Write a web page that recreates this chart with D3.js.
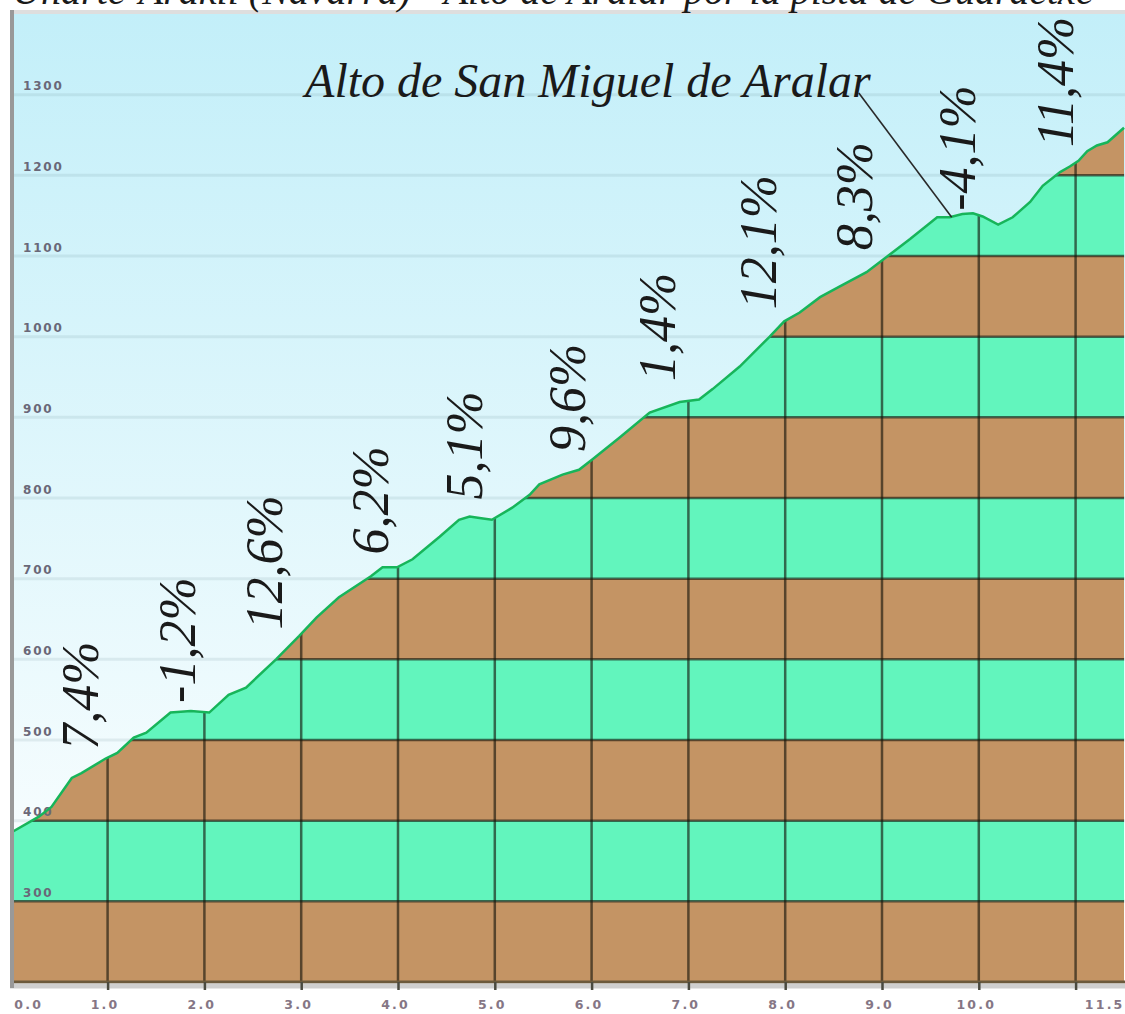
<!DOCTYPE html>
<html>
<head>
<meta charset="utf-8">
<script src="https://cdn.jsdelivr.net/npm/d3@7"></script>
<style>
  body { margin: 0; background: #fff; }
</style>
</head>
<body>
<div id="perfil"></div>
<script>
// Perfil: km recorrido / altitud (m)
var profileKm = [0.0, 0.29, 0.42, 0.63, 0.73, 0.98, 1.10, 1.27, 1.40, 1.65, 1.86, 2.05, 2.25, 2.43, 2.74, 2.98,
  3.16, 3.39, 3.72, 3.84, 3.99, 4.15, 4.43, 4.63, 4.74, 4.86, 4.97, 5.18, 5.36, 5.46, 5.70, 5.87, 6.01,
  6.29, 6.60, 6.91, 7.11, 7.25, 7.53, 7.84, 7.99, 8.15, 8.36, 8.56, 8.84, 9.05, 9.29, 9.57, 9.70, 9.83,
  9.94, 10.04, 10.20, 10.35, 10.53, 10.66, 10.84, 10.94, 11.03, 11.12, 11.22, 11.33, 11.50];
var profileElev = [385, 405, 417, 453, 459, 477, 484, 503, 509, 534, 536, 534, 556, 565, 600, 629,
  652, 677, 703, 714, 714, 724, 752, 773, 777, 775, 773, 788, 804, 817, 829, 835, 848,
  875, 906, 919, 922, 935, 963, 1000, 1019, 1030, 1049, 1062, 1080, 1099, 1121, 1148, 1148, 1152,
  1153, 1149, 1139, 1148, 1167, 1187, 1204, 1211, 1218, 1230, 1237, 1241, 1259];

// pendientes por km
var gradeText = ["7,4%", "-1,2%", "12,6%", "6,2%", "5,1%", "9,6%", "1,4%", "12,1%", "8,3%", "-4,1%", "11,4%"];
var gradeKm = [0.9, 1.9, 2.8, 3.9, 4.87, 5.93, 6.86, 7.9, 8.9, 9.96, 10.97];
var gradeElev = [488, 546, 637, 730, 798, 857, 945, 1034, 1107, 1156, 1235];

var kmTicks = d3.range(0, 12);
var kmLabels = [0, 1, 2, 3, 4, 5, 6, 7, 8, 9, 10, 11.5];
var elevTicks = d3.range(300, 1400, 100);
var bandStarts = d3.range(200, 1400, 100);

var titleText = "Uharte-Arakil (Navarra) - Alto de Aralar por la pista de Guardetxe";
var summitName = "Alto de San Miguel de Aralar";
var summitKm = 9.72, summitElev = 1148;
var summitLabelKm = 3.04, summitLabelElev = 1297;

var W = 1125, H = 1014;
var plot = { left: 13, right: 1125, top: 14, bottom: 982 };

var svg = d3.select("#perfil").append("svg")
  .attr("width", W)
  .attr("height", H)
  .style("display", "block");

var x = d3.scaleLinear().domain([0, 11.5]).range([10.8, 1124]);
var y = d3.scaleLinear().domain([200, 1400]).range([plot.bottom, plot.top]);

var data = profileKm.map(function(k, i) { return { km: k, elev: profileElev[i] }; });

// cielo degradado
var defs = svg.append("defs");
var grad = defs.append("linearGradient")
  .attr("id", "cielo")
  .attr("x1", 0).attr("y1", 0).attr("x2", 0).attr("y2", 1);
grad.append("stop").attr("offset", "0%").attr("stop-color", "#c3eff9");
grad.append("stop").attr("offset", "100%").attr("stop-color", "#ffffff");

defs.append("clipPath").attr("id", "terreno")
  .append("path")
  .attr("d", d3.area().x(d => x(d.km)).y0(y(200)).y1(d => y(d.elev))(data));

svg.append("rect")
  .attr("x", plot.left).attr("y", plot.top)
  .attr("width", plot.right - plot.left).attr("height", plot.bottom - plot.top)
  .attr("fill", "url(#cielo)");

// lineas claras en el cielo
svg.append("g").selectAll("line").data(elevTicks).join("line")
  .attr("x1", plot.left).attr("x2", plot.right)
  .attr("y1", d => y(d)).attr("y2", d => y(d))
  .attr("stroke", "rgba(90,130,140,0.13)")
  .attr("stroke-width", 3);

// bandas de altitud bajo el perfil
var ground = svg.append("g").attr("clip-path", "url(#terreno)");
ground.selectAll("rect").data(bandStarts).join("rect")
  .attr("x", plot.left).attr("width", plot.right - plot.left)
  .attr("y", d => y(d + 100))
  .attr("height", d => y(d) - y(d + 100))
  .attr("fill", (d, i) => i % 2 == 0 ? "#c49464" : "#62f5bd");

ground.append("g").selectAll("line").data(elevTicks).join("line")
  .attr("x1", plot.left).attr("x2", plot.right)
  .attr("y1", d => y(d)).attr("y2", d => y(d))
  .attr("stroke", "rgba(20,20,10,0.62)")
  .attr("stroke-width", 2.5);

ground.append("g").selectAll("line").data(kmTicks.slice(1)).join("line")
  .attr("x1", d => x(d)).attr("x2", d => x(d))
  .attr("y1", plot.bottom).attr("y2", plot.top)
  .attr("stroke", "rgba(20,20,10,0.62)")
  .attr("stroke-width", 2.5);

// eje y (etiquetas dentro del grafico)
var yAxis = svg.append("g")
  .attr("transform", "translate(23,0)")
  .call(d3.axisRight(y).tickValues(elevTicks).tickSize(0).tickPadding(0).tickFormat(d3.format("d")));
yAxis.select(".domain").remove();
yAxis.selectAll("text")
  .attr("dy", null)
  .attr("y", -5)
  .attr("text-anchor", "start")
  .style("font-family", "DejaVu Sans")
  .style("font-weight", "bold")
  .style("font-size", "12px")
  .style("letter-spacing", "1.8px")
  .style("fill", "#6a6878");

// linea del perfil
svg.append("path")
  .datum(data)
  .attr("d", d3.line().x(d => x(d.km)).y(d => y(d.elev)))
  .attr("fill", "none")
  .attr("stroke", "#17b55a")
  .attr("stroke-width", 2.5);

// marco
svg.append("line")
  .attr("x1", plot.left).attr("x2", plot.right)
  .attr("y1", plot.bottom).attr("y2", plot.bottom)
  .attr("stroke", "#6c5a3c").attr("stroke-width", 3);
svg.append("rect")
  .attr("x", 10).attr("y", plot.bottom + 1.5)
  .attr("width", W - 10).attr("height", 5)
  .attr("fill", "#cfcfcf");
svg.append("rect")
  .attr("x", 10).attr("y", plot.top - 4)
  .attr("width", W - 10).attr("height", 4)
  .attr("fill", "#dedede");
svg.append("rect")
  .attr("x", 10).attr("y", plot.top - 4)
  .attr("width", 4).attr("height", plot.bottom - plot.top + 10)
  .attr("fill", "#999");

// marcas y etiquetas del eje x
var xMarks = svg.append("g")
  .attr("transform", `translate(0, ${plot.bottom})`)
  .call(d3.axisBottom(x).tickValues(kmTicks.slice(1)).tickSize(8).tickFormat(""));
xMarks.select(".domain").remove();
xMarks.selectAll("line").attr("stroke", "#4a4a40").attr("stroke-width", 2.5);

var xAxis = svg.append("g")
  .attr("transform", `translate(0, ${plot.bottom})`)
  .call(d3.axisBottom(x).tickValues(kmLabels).tickSize(0).tickPadding(0).tickFormat(d3.format(".1f")));
xAxis.select(".domain").remove();
xAxis.selectAll("text")
  .attr("dy", null)
  .attr("y", 27)
  .attr("x", -3)
  .style("font-family", "DejaVu Sans")
  .style("font-weight", "bold")
  .style("font-size", "12.5px")
  .style("letter-spacing", "2.2px")
  .style("fill", "#857685");
xAxis.selectAll("text").filter(d => d == 0).attr("text-anchor", "start").attr("x", 3);
xAxis.selectAll("text").filter(d => d == 11.5).attr("text-anchor", "end").attr("x", 0);

// pendientes
svg.append("g").selectAll("text").data(gradeText).join("text")
  .attr("transform", (d, i) => `translate(${x(gradeKm[i])}, ${y(gradeElev[i])}) rotate(-90)`)
  .attr("text-anchor", "start")
  .style("font-family", "Liberation Serif")
  .style("font-style", "italic")
  .style("font-size", "52px")
  .style("fill", "#1a1a1a")
  .text(d => d);

// cima
var cima = svg.append("text")
  .attr("x", x(summitLabelKm))
  .attr("y", y(summitLabelElev))
  .style("font-family", "Liberation Serif")
  .style("font-style", "italic")
  .style("font-size", "48px")
  .style("fill", "#1a1a1a")
  .text(summitName);
var cimaEnd = x(summitLabelKm) + cima.node().getComputedTextLength();
svg.append("line")
  .attr("x1", cimaEnd - 12).attr("y1", y(summitLabelElev) - 4)
  .attr("x2", x(summitKm)).attr("y2", y(summitElev))
  .attr("stroke", "#2a2a2a")
  .attr("stroke-width", 1.6);

// titulo (cortado arriba, como en la imagen original)
var titulo = svg.append("text")
  .attr("y", 4)
  .style("font-family", "Liberation Serif")
  .style("font-style", "italic")
  .style("font-size", "40px")
  .style("fill", "#1a1a1a")
  .text(titleText);
var porIdx = titleText.indexOf("por");
titulo.attr("x", 684 - titulo.node().getSubStringLength(0, porIdx));
</script>
</body>
</html>
